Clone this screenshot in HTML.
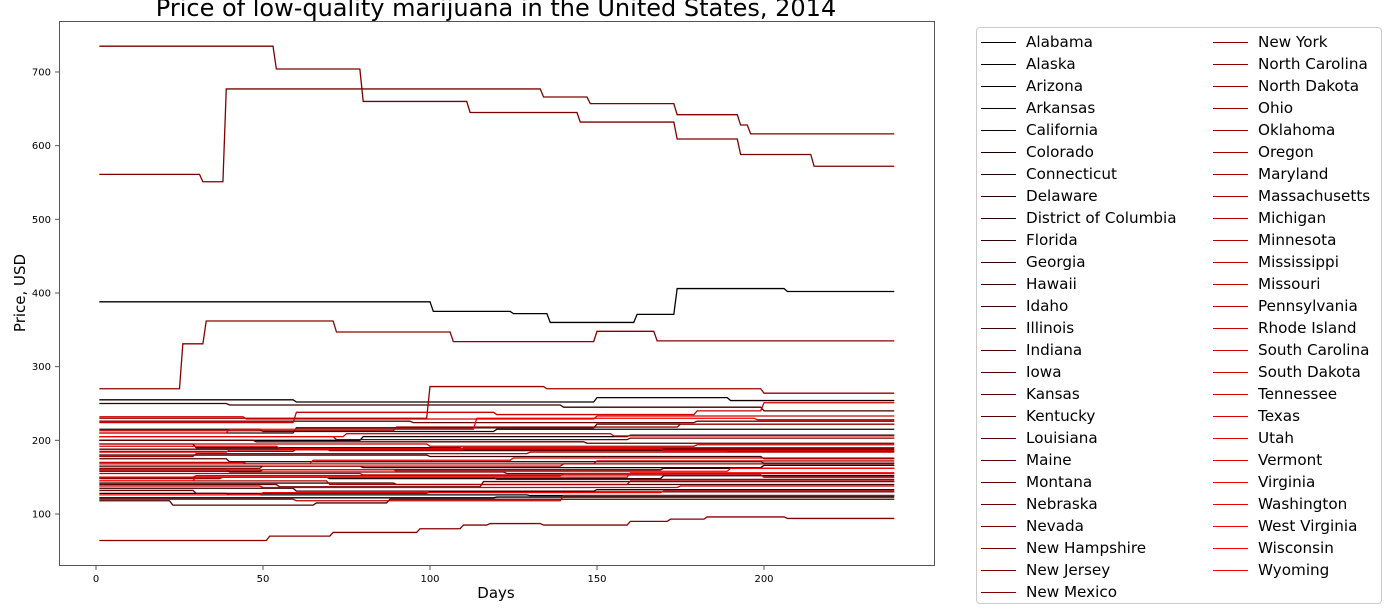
<!DOCTYPE html>
<html><head><meta charset="utf-8">
<style>
body{margin:0;background:#fff;width:1387px;height:613px;overflow:hidden;font-family:"DejaVu Sans","Liberation Sans",sans-serif;}
svg{position:absolute;left:0;top:0}
#legend{position:absolute;left:976px;top:27px;width:406px;height:577px;border:1px solid #ccc;border-radius:4px;box-sizing:border-box;background:#fff}
.le{position:absolute;height:22px;font-size:15.2px;line-height:22px;color:#000;white-space:nowrap}
.le span.l{position:absolute;left:0;top:10px;width:35px;height:1.2px}
.le span.t{position:absolute;left:45px;top:-1px}
</style></head><body>
<svg id="chart" width="1387" height="613">
<text x="496" y="16" font-size="24" text-anchor="middle" font-family="DejaVu Sans, Liberation Sans, sans-serif">Price of low-quality marijuana in the United States, 2014</text>
<rect x="59.5" y="21.5" width="875" height="544" fill="none" stroke="#555" stroke-width="1"/>
<g id="series"></g>
<g id="axes"></g>
<text x="496" y="598" font-size="15" text-anchor="middle">Days</text>
<text transform="translate(25,293) rotate(-90)" font-size="15" text-anchor="middle">Price, USD</text>
</svg>
<div id="legend"></div>
<script>
const states=["Alabama","Alaska","Arizona","Arkansas","California","Colorado","Connecticut","Delaware","District of Columbia","Florida","Georgia","Hawaii","Idaho","Illinois","Indiana","Iowa","Kansas","Kentucky","Louisiana","Maine","Montana","Nebraska","Nevada","New Hampshire","New Jersey","New Mexico","New York","North Carolina","North Dakota","Ohio","Oklahoma","Oregon","Maryland","Massachusetts","Michigan","Minnesota","Mississippi","Missouri","Pennsylvania","Rhode Island","South Carolina","South Dakota","Tennessee","Texas","Utah","Vermont","Virginia","Washington","West Virginia","Wisconsin","Wyoming"];
const xTicks=[0,50,100,150,200];
const yTicks=[100,200,300,400,500,600,700];
// step series: [day, price] change points
const prices=[
[[1,122],[120,123]],
[[1,388],[101,375],[125,372],[136,360],[162,371],[174,406],[207,402]],
[[1,200],[80,205],[160,207]],
[[1,255],[60,252],[150,258],[190,254]],
[[1,128],[40,126],[130,125]],
[[1,215],[50,212],[120,215]],
[[1,165],[80,163],[200,166]],
[[1,150],[70,148],[170,152]],
[[1,195],[30,190],[110,188]],
[[1,135],[60,131],[150,133]],
[[1,210],[60,217],[150,222]],
[[1,250],[40,248],[140,245],[200,240]],
[[1,180],[100,178],[200,175]],
[[1,158],[50,160],[170,162]],
[[1,142],[90,140]],
[[1,175],[40,171],[200,169]],
[[1,118],[23,112],[66,115],[88,120]],
[[1,188],[70,186],[190,185]],
[[1,200],[48,198],[147,196]],
[[1,140],[55,137],[116,144]],
[[1,132],[30,128],[100,130]],
[[1,226],[95,224],[180,226]],
[[1,160],[40,157],[123,155]],
[[1,205],[72,201],[160,203]],
[[1,735],[54,704],[80,660],[112,645],[145,632],[174,609],[193,588],[215,572]],
[[1,561],[32,551],[39,677],[134,666],[148,657],[174,642],[193,628],[196,616]],
[[1,64],[52,70],[71,75],[97,80],[110,85],[118,87],[134,85],[160,90],[172,93],[183,96],[207,94]],
[[1,270],[26,331],[33,362],[72,347],[107,334],[150,348],[168,335]],
[[1,185],[60,188],[130,190]],
[[1,148],[38,150],[120,147]],
[[1,230],[100,273],[135,270],[200,264]],
[[1,162],[50,165],[140,168]],
[[1,213],[90,218],[175,222]],
[[1,145],[70,140],[160,145]],
[[1,178],[30,182],[130,184]],
[[1,155],[80,153],[200,150]],
[[1,120],[60,118],[140,125]],
[[1,195],[100,192],[180,194]],
[[1,170],[45,168],[150,172]],
[[1,138],[50,136],[175,138]],
[[1,224],[60,238],[120,235],[180,240],[200,251]],
[[1,232],[45,229],[150,233]],
[[1,150],[30,152],[140,155]],
[[1,192],[55,189],[170,186]],
[[1,168],[65,173],[125,176]],
[[1,205],[75,209],[155,206]],
[[1,184],[40,187],[110,190]],
[[1,126],[50,129],[170,131]],
[[1,210],[40,215],[114,230],[198,228]],
[[1,145],[30,150],[160,156]],
[[1,160],[90,158],[190,162]]
];
const X=d=>96+d*3.34;
const Y=v=>514-(v-100)*0.7367;
const ns="http://www.w3.org/2000/svg";
const axes=document.getElementById('axes');
xTicks.forEach(t=>{
 const l=document.createElementNS(ns,'line');
 l.setAttribute('x1',X(t));l.setAttribute('x2',X(t));l.setAttribute('y1',566);l.setAttribute('y2',570);l.setAttribute('stroke','#555');
 
 
 axes.appendChild(l);
 const tx=document.createElementNS(ns,'text');
 tx.setAttribute('x',X(t));tx.setAttribute('y',582);tx.setAttribute('font-size','10');tx.setAttribute('text-anchor','middle');tx.textContent=t;
 
 
 axes.appendChild(tx);
});
yTicks.forEach(t=>{
 const l=document.createElementNS(ns,'line');
 l.setAttribute('x1',55);l.setAttribute('x2',59);l.setAttribute('y1',Y(t));l.setAttribute('y2',Y(t));l.setAttribute('stroke','#555');
 
 
 axes.appendChild(l);
 const tx=document.createElementNS(ns,'text');
 tx.setAttribute('x',51);tx.setAttribute('y',Y(t)+3.5);tx.setAttribute('font-size','10');tx.setAttribute('text-anchor','end');tx.textContent=t;
 
 
 axes.appendChild(tx);
});
const col=i=>'rgb('+Math.round(255*i/50)+',0,0)';
const g=document.getElementById('series');
prices.forEach((s,i)=>{
 let pts=[];
 for(let k=0;k<s.length;k++){
  const end=k<s.length-1?s[k+1][0]-1:239;
  pts.push(X(s[k][0])+','+Y(s[k][1]));
  pts.push(X(end)+','+Y(s[k][1]));
 }
 const p=document.createElementNS(ns,'polyline');
 p.setAttribute('points',pts.join(' '));p.setAttribute('fill','none');p.setAttribute('stroke',col(i));p.setAttribute('stroke-width','1.3');
 
 
 g.appendChild(p);
});
const lg=document.getElementById('legend');
states.forEach((s,i)=>{
 const c=i<26?0:1, r=i<26?i:i-26;
 const d=document.createElement('div');
 d.className='le';
 d.style.left=(c?236:4)+'px';d.style.top=(4+r*22)+'px';
 d.innerHTML='<span class="l" style="background:'+col(i)+'"></span><span class="t">'+s+'</span>';
 
 
 lg.appendChild(d);
});
</script>
</body></html>
